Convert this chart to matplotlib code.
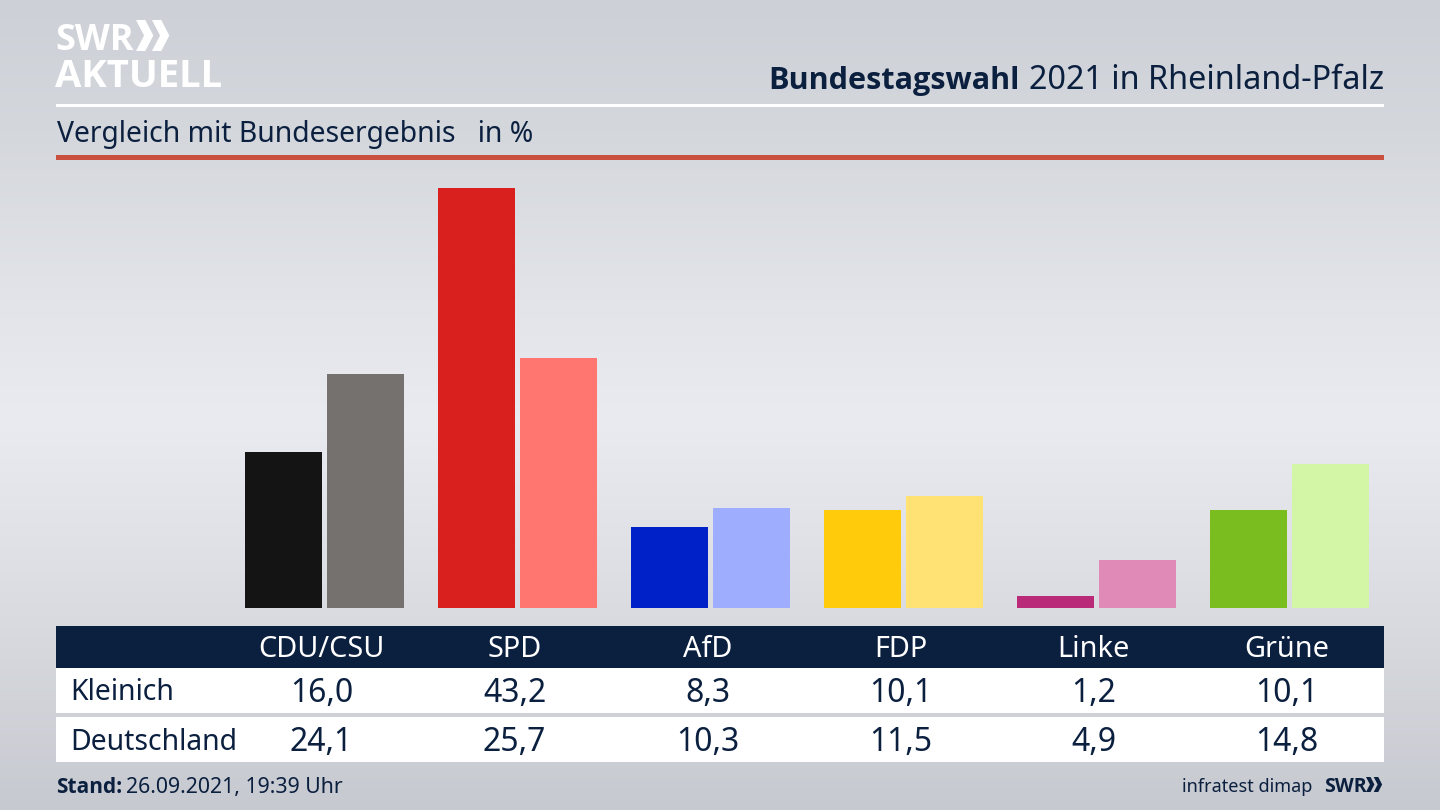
import numpy as np
import matplotlib
matplotlib.use('Agg')
import matplotlib.pyplot as plt
from matplotlib.patches import Rectangle, Polygon

parties = ['CDU/CSU', 'SPD', 'AfD', 'FDP', 'Linke', 'Grüne']
kleinich = [16.0, 43.2, 8.3, 10.1, 1.2, 10.1]
deutschland = [24.1, 25.7, 10.3, 11.5, 4.9, 14.8]
row_names = ['Kleinich', 'Deutschland']

colors_land = ['#141414', '#d9201e', '#0021c8', '#ffcb0a', '#b92a78', '#79bd1e']
colors_bund = ['#74716e', '#ff7570', '#9fadff', '#ffe174', '#e08ab8', '#d2f6a6']

NAVY = '#0b1f3f'
W, H = 1440, 810
PX_PER_UNIT = 9.73
GROUP_X0, GROUP_STEP = 324.5, 193.0
BASE_Y = 608

plt.rcParams['font.family'] = ['Noto Sans', 'DejaVu Sans']


def fmt(value):
    return f'{value:.1f}'.replace('.', ',')


def chevrons(ax, x, y, h, color):
    """
    Two chevrons of the SWR logo, x/y is the top left corner in pixels
    """
    w = h * 0.56
    t = h * 0.30
    for dx in (0, w * 0.92):
        ax.add_patch(Polygon([[x + dx, y], [x + dx + t, y], [x + dx + w, y + h / 2],
                              [x + dx + t, y + h], [x + dx, y + h],
                              [x + dx + w - t, y + h / 2]], color=color, lw=0))


fig = plt.figure(figsize=(W / 100, H / 100), dpi=100)

# page layer in pixel coordinates
page = fig.add_axes([0, 0, 1, 1])
page.set_xlim(0, W)
page.set_ylim(H, 0)
page.axis('off')

levels = np.array([0, 130, 300, 420, 560, 810])
shades = np.array([[205, 208, 214], [212, 215, 220], [226, 228, 234],
                   [234, 235, 240], [222, 224, 229], [198, 201, 207]]) / 255
rows = np.arange(H)
gradient = np.stack([np.interp(rows, levels, shades[:, i]) for i in range(3)], axis=1)
page.imshow(gradient[:, None, :], extent=[0, W, H, 0], aspect='auto', zorder=0)

# logo
page.text(55, 50, 'SWR', fontsize=26, fontweight='bold', color='white', family='Open Sans',
          va='baseline', ha='left', zorder=3)
chevrons(page, 136, 20, 31, 'white')
page.text(55, 87, 'AKTUELL', fontsize=27.5, fontweight='bold', color='white', family='Open Sans',
          va='baseline', ha='left', zorder=3)

# header
page.text(1384, 89, '2021 in Rheinland-Pfalz', fontsize=23.3, color=NAVY,
          ha='right', va='baseline', zorder=3)
page.text(1020, 89, 'Bundestagswahl', fontsize=22.1, fontweight='bold', family='Open Sans',
          color=NAVY, ha='right', va='baseline', zorder=3)
page.add_patch(Rectangle((56, 104), 1328, 3, color='white', lw=0, zorder=2))
page.text(57, 142, 'Vergleich mit Bundesergebnis   in %', fontsize=20.4, color=NAVY,
          ha='left', va='baseline', zorder=3)
page.add_patch(Rectangle((56, 155), 1328, 5, color='#c9503f', lw=0, zorder=2))

# table
page.add_patch(Rectangle((56, 626), 1328, 42, color=NAVY, lw=0, zorder=2))
page.add_patch(Rectangle((56, 668), 1328, 45, color='white', lw=0, zorder=2))
page.add_patch(Rectangle((56, 717), 1328, 45, color='white', lw=0, zorder=2))
for i, party in enumerate(parties):
    cx = GROUP_X0 + i * GROUP_STEP
    page.text(cx - 3, 657, party, fontsize=20.8, color='white', ha='center', va='baseline', zorder=3)
    page.text(cx - 3, 702, fmt(kleinich[i]), fontsize=23, color=NAVY, ha='center', va='baseline', zorder=3)
    page.text(cx - 3, 751, fmt(deutschland[i]), fontsize=23, color=NAVY, ha='center', va='baseline', zorder=3)
page.text(70, 700, row_names[0], fontsize=20.4, color=NAVY, ha='left', va='baseline', zorder=3)
page.text(70, 750, row_names[1], fontsize=20.4, color=NAVY, ha='left', va='baseline', zorder=3)

# footer
page.text(56, 793, 'Stand:', fontsize=15, fontweight='bold', family='Open Sans', color=NAVY,
          va='baseline', zorder=3)
page.text(126, 793, '26.09.2021, 19:39 Uhr', fontsize=15.3, color=NAVY, va='baseline', zorder=3)
page.text(1312, 792, 'infratest dimap', fontsize=13, color=NAVY, ha='right', va='baseline', zorder=3)
page.text(1324, 792, 'SWR', fontsize=14, fontweight='bold', color=NAVY, family='Open Sans',
          ha='left', va='baseline', zorder=3)
chevrons(page, 1366, 777, 15, NAVY)

# bars
top_y = 170
ax = fig.add_axes([0, (H - BASE_Y) / H, 1, (BASE_Y - top_y) / H])
ax.patch.set_alpha(0)
ax.axis('off')
ax.set_xlim(-GROUP_X0 / GROUP_STEP, (W - GROUP_X0) / GROUP_STEP)
ax.set_ylim(0, (BASE_Y - top_y) / PX_PER_UNIT)

x = np.arange(len(parties))
bar_w = 77 / GROUP_STEP
offset = 41 / GROUP_STEP
ax.bar(x - offset, kleinich, width=bar_w, color=colors_land)
ax.bar(x + offset, deutschland, width=bar_w, color=colors_bund)

fig.savefig('out.png', dpi=100)
